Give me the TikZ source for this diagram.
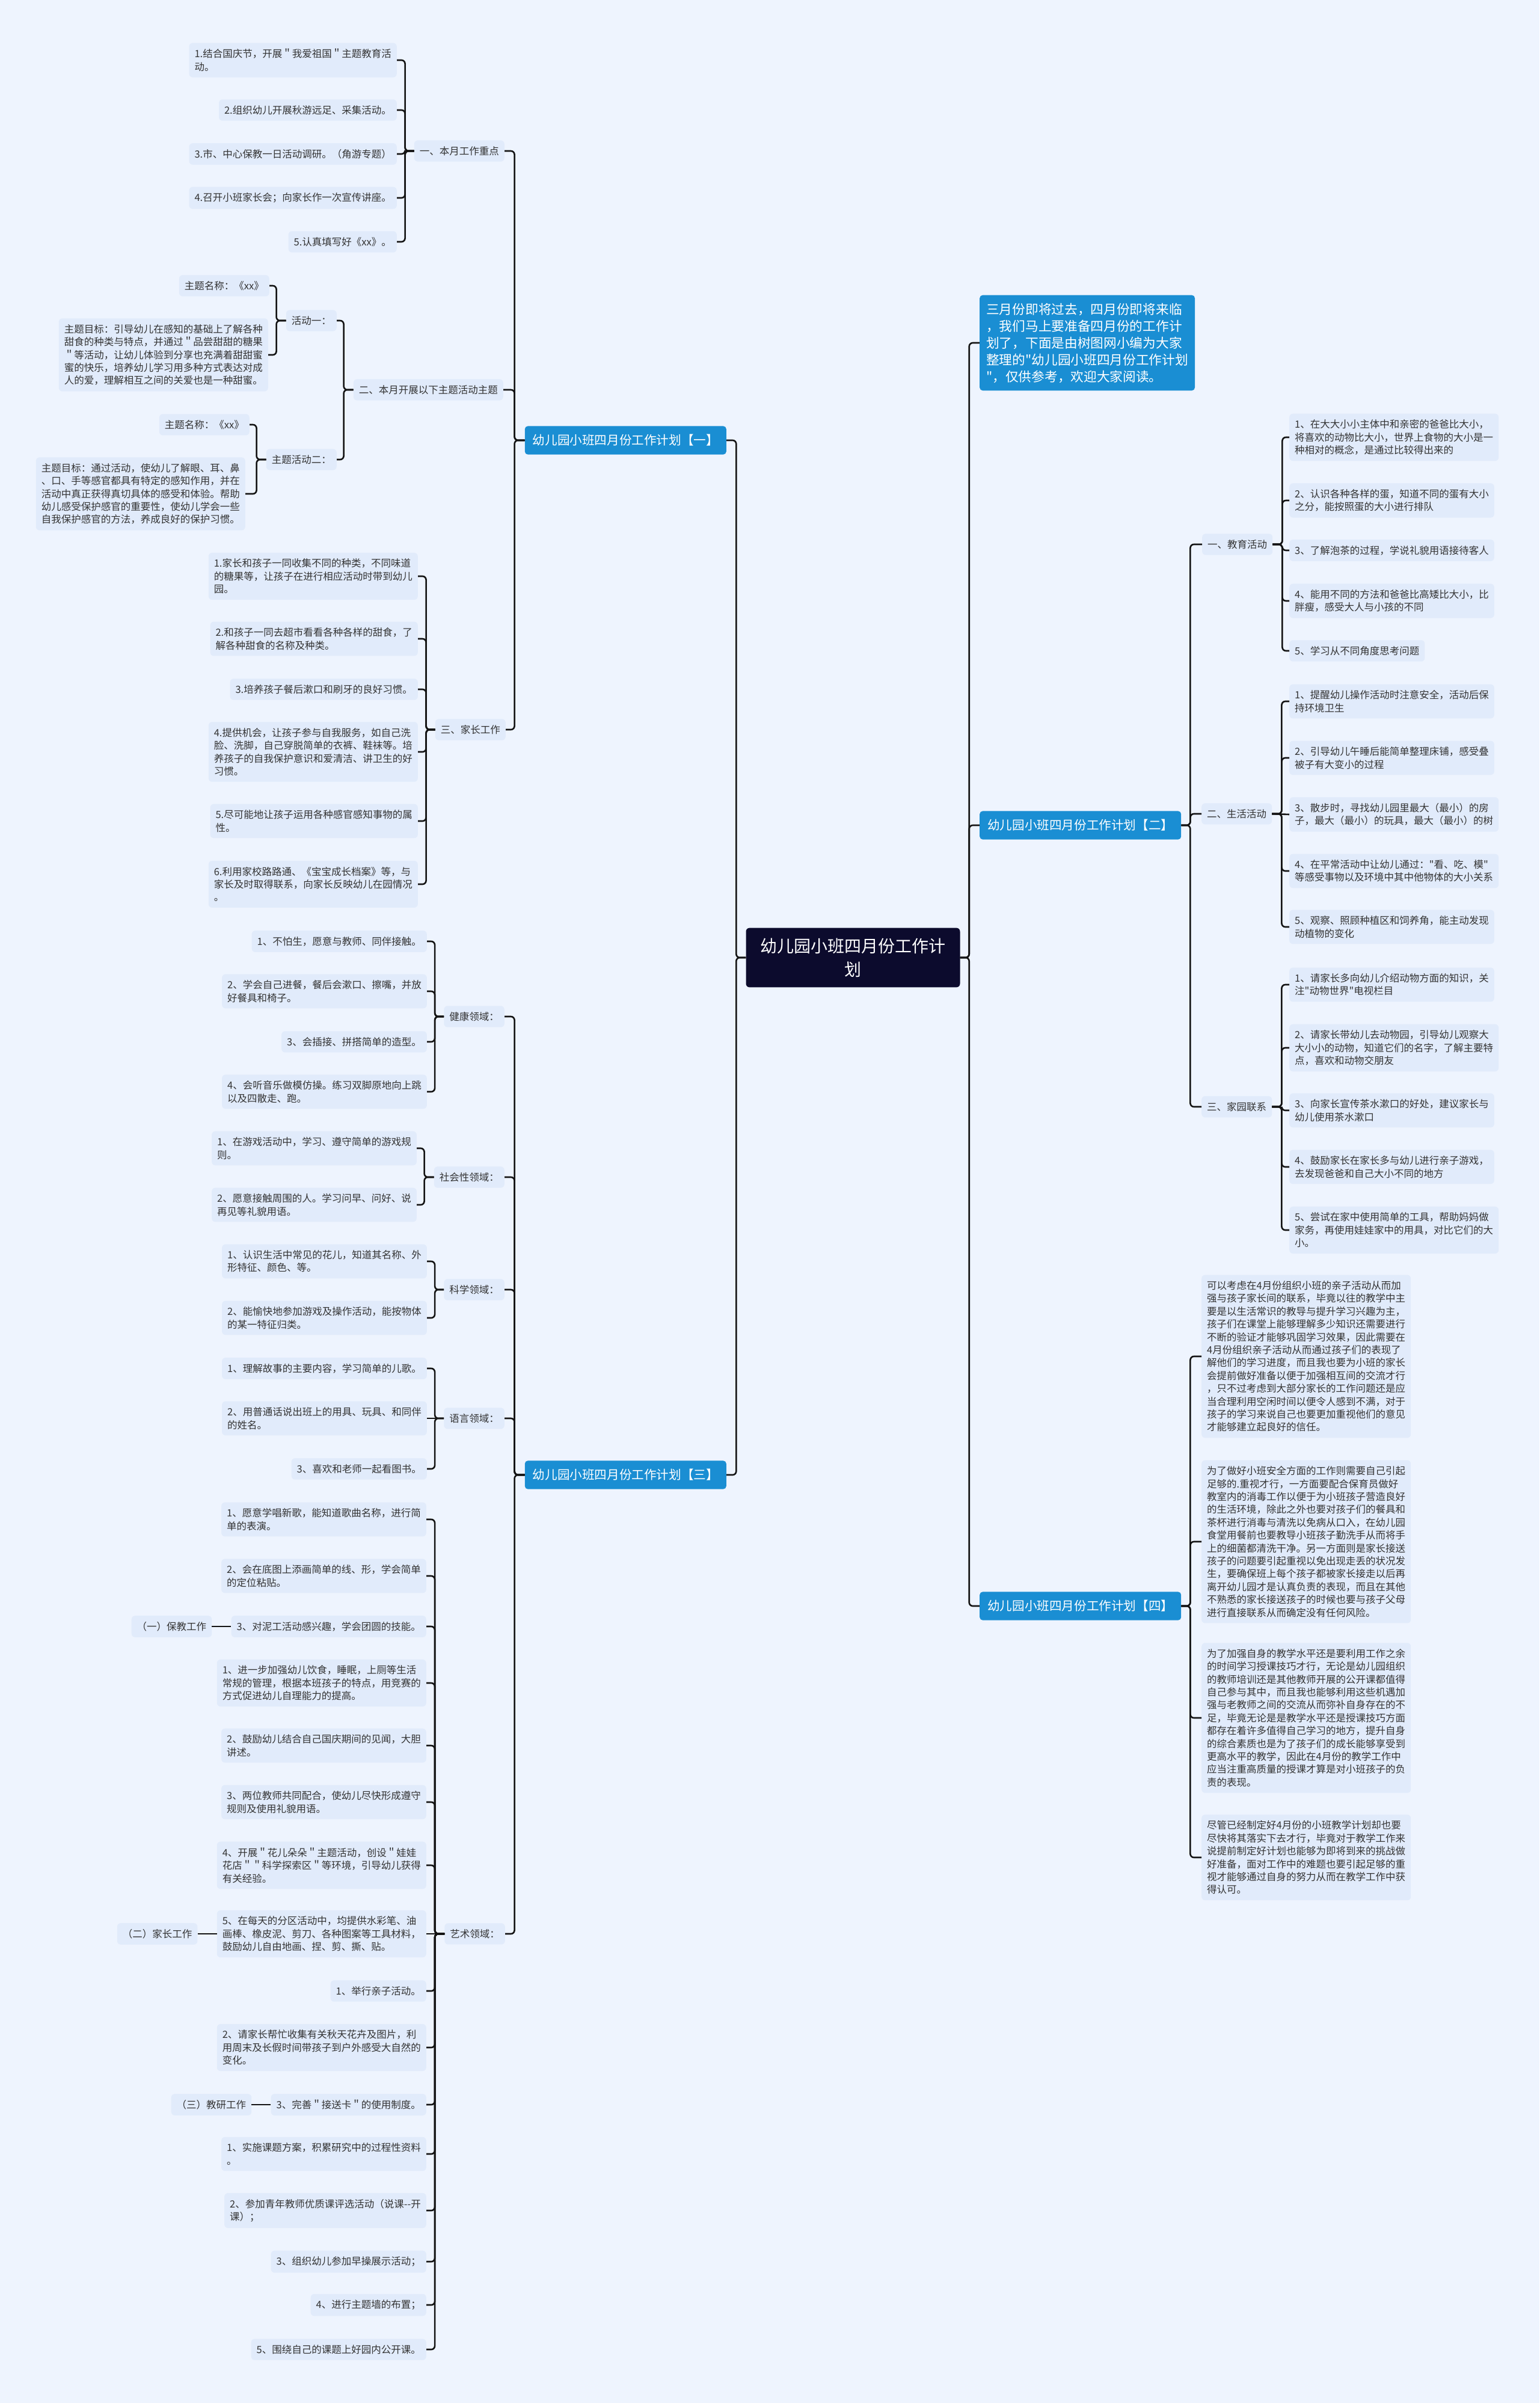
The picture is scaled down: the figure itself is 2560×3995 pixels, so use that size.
\documentclass[tikz,border=0pt]{standalone}
\usepackage{fontspec}
\newfontfamily\zhfont{Noto Sans CJK SC}
\usepackage{tikz}
\usetikzlibrary{positioning}

\definecolor{pagebg}{HTML}{EEF4FE}
\definecolor{leaffill}{HTML}{E1EBFB}
\definecolor{branchblue}{HTML}{1A8ED3}
\definecolor{rootnavy}{HTML}{0C0B2D}
\definecolor{linkdark}{HTML}{141414}
\definecolor{textgray}{HTML}{333333}

\tikzset{
  leaf/.style={fill=leaffill, text=textgray, rounded corners=6pt, align=left,
    inner xsep=9pt, inner ysep=10pt, font=\zhfont\fontsize{16.5}{21.4}\selectfont},
  branch/.style={fill=branchblue, text=white, rounded corners=5pt,
    inner xsep=13pt, inner ysep=14pt, font=\zhfont\fontsize{20.6}{26}\selectfont},
  intro/.style={branch, align=left, inner xsep=11pt, inner ysep=13pt,
    font=\zhfont\fontsize{21.7}{28}\selectfont},
  root/.style={fill=rootnavy, text=white, rounded corners=6pt, align=center,
    inner xsep=24pt, inner ysep=17pt, font=\zhfont\fontsize{28}{39}\selectfont},
  link/.style={draw=linkdark, line width=2.6pt, rounded corners=6pt},
}

\begin{document}
\begin{tikzpicture}[x=1pt, y=-1pt]

		\useasboundingbox (0,0) rectangle (2560,3995);
		\fill[pagebg] (0,0) rectangle (2560,3995);

		% Centre
		\node [root] (plan) at (1418.5,1592) {幼儿园小班四月份工作计\\划};

		% Branches
		\node [branch, anchor=east] (plan1) at (1208,732) {幼儿园小班四月份工作计划【一】};
		\node [branch, anchor=east] (plan3) at (1208,2452) {幼儿园小班四月份工作计划【三】};
		\node [intro, anchor=west] (lead) at (1629,570) {三月份即将过去，四月份即将来临\\，我们马上要准备四月份的工作计\\划了，下面是由树图网小编为大家\\整理的"幼儿园小班四月份工作计划\\"，仅供参考，欢迎大家阅读。};
		\node [branch, anchor=west] (plan2) at (1629,1372) {幼儿园小班四月份工作计划【二】};
		\node [branch, anchor=west] (plan4) at (1629,2670) {幼儿园小班四月份工作计划【四】};

		% Plan one
		\node [leaf, anchor=east] (focus) at (839,251) {一、本月工作重点};
		\node [leaf, anchor=east] (theme) at (837,648) {二、本月开展以下主题活动主题};
		\node [leaf, anchor=east] (parents) at (841,1213) {三、家长工作};

		\node [leaf, anchor=east] (focus1) at (660,100) {1.结合国庆节，开展＂我爱祖国＂主题教育活\\动。};
		\node [leaf, anchor=east] (focus2) at (660,183) {2.组织幼儿开展秋游远足、采集活动。};
		\node [leaf, anchor=east] (focus3) at (660,256) {3.市、中心保教一日活动调研。（角游专题）};
		\node [leaf, anchor=east] (focus4) at (660,329) {4.召开小班家长会；向家长作一次宣传讲座。};
		\node [leaf, anchor=east] (focus5) at (660,402) {5.认真填写好《xx》。};

		\node [leaf, anchor=east] (act1) at (560,533) {活动一：};
		\node [leaf, anchor=east] (act2) at (560,764) {主题活动二：};
		\node [leaf, anchor=east] (name1) at (448,475) {主题名称：《xx》};
		\node [leaf, anchor=east] (goal1) at (446,590) {主题目标：引导幼儿在感知的基础上了解各种\\甜食的种类与特点，并通过＂品尝甜甜的糖果\\＂等活动，让幼儿体验到分享也充满着甜甜蜜\\蜜的快乐，培养幼儿学习用多种方式表达对成\\人的爱，理解相互之间的关爱也是一种甜蜜。};
		\node [leaf, anchor=east] (name2) at (415,706) {主题名称：《xx》};
		\node [leaf, anchor=east] (goal2) at (408,821) {主题目标：通过活动，使幼儿了解眼、耳、鼻\\、口、手等感官都具有特定的感知作用，并在\\活动中真正获得真切具体的感受和体验。帮助\\幼儿感受保护感官的重要性，使幼儿学会一些\\自我保护感官的方法，养成良好的保护习惯。};

		\node [leaf, anchor=east] (home1) at (695,958) {1.家长和孩子一同收集不同的种类，不同味道\\的糖果等，让孩子在进行相应活动时带到幼儿\\园。};
		\node [leaf, anchor=east] (home2) at (695,1062) {2.和孩子一同去超市看看各种各样的甜食，了\\解各种甜食的名称及种类。};
		\node [leaf, anchor=east] (home3) at (695,1146) {3.培养孩子餐后漱口和刷牙的良好习惯。};
		\node [leaf, anchor=east] (home4) at (695,1250) {4.提供机会，让孩子参与自我服务，如自己洗\\脸、洗脚，自己穿脱简单的衣裤、鞋袜等。培\\养孩子的自我保护意识和爱清洁、讲卫生的好\\习惯。};
		\node [leaf, anchor=east] (home5) at (695,1365) {5.尽可能地让孩子运用各种感官感知事物的属\\性。};
		\node [leaf, anchor=east] (home6) at (695,1470) {6.利用家校路路通、《宝宝成长档案》等，与\\家长及时取得联系，向家长反映幼儿在园情况\\。};

		% Plan three
		\node [leaf, anchor=east] (health) at (839,1690) {健康领域：};
		\node [leaf, anchor=east] (social) at (839,1957) {社会性领域：};
		\node [leaf, anchor=east] (science) at (839,2144) {科学领域：};
		\node [leaf, anchor=east] (speech) at (839,2358) {语言领域：};
		\node [leaf, anchor=east] (art) at (840,3215) {艺术领域：};

		\node [leaf, anchor=east] (health1) at (710,1565) {1、不怕生，愿意与教师、同伴接触。};
		\node [leaf, anchor=east] (health2) at (710,1648) {2、学会自己进餐，餐后会漱口、擦嘴，并放\\好餐具和椅子。};
		\node [leaf, anchor=east] (health3) at (710,1732) {3、会插接、拼搭简单的造型。};
		\node [leaf, anchor=east] (health4) at (710,1815) {4、会听音乐做模仿操。练习双脚原地向上跳\\以及四散走、跑。};

		\node [leaf, anchor=east] (social1) at (693,1909) {1、在游戏活动中，学习、遵守简单的游戏规\\则。};
		\node [leaf, anchor=east] (social2) at (693,2003) {2、愿意接触周围的人。学习问早、问好、说\\再见等礼貌用语。};

		\node [leaf, anchor=east] (science1) at (710,2097) {1、认识生活中常见的花儿，知道其名称、外\\形特征、颜色、等。};
		\node [leaf, anchor=east] (science2) at (710,2191) {2、能愉快地参加游戏及操作活动，能按物体\\的某一特征归类。};

		\node [leaf, anchor=east] (speech1) at (710,2275) {1、理解故事的主要内容，学习简单的儿歌。};
		\node [leaf, anchor=east] (speech2) at (710,2358) {2、用普通话说出班上的用具、玩具、和同伴\\的姓名。};
		\node [leaf, anchor=east] (speech3) at (710,2442) {3、喜欢和老师一起看图书。};

		\node [leaf, anchor=east] (art1) at (709,2526) {1、愿意学唱新歌，能知道歌曲名称，进行简\\单的表演。};
		\node [leaf, anchor=east] (art2) at (709,2620) {2、会在底图上添画简单的线、形，学会简单\\的定位粘贴。};
		\node [leaf, anchor=east] (art3) at (709,2704) {3、对泥工活动感兴趣，学会团圆的技能。};
		\node [leaf, anchor=east] (art4) at (709,2798) {1、进一步加强幼儿饮食，睡眠，上厕等生活\\常规的管理，根据本班孩子的特点，用竞赛的\\方式促进幼儿自理能力的提高。};
		\node [leaf, anchor=east] (art5) at (709,2902) {2、鼓励幼儿结合自己国庆期间的见闻，大胆\\讲述。};
		\node [leaf, anchor=east] (art6) at (709,2996) {3、两位教师共同配合，使幼儿尽快形成遵守\\规则及使用礼貌用语。};
		\node [leaf, anchor=east] (art7) at (709,3101) {4、开展＂花儿朵朵＂主题活动，创设＂娃娃\\花店＂＂科学探索区＂等环境，引导幼儿获得\\有关经验。};
		\node [leaf, anchor=east] (art8) at (709,3215) {5、在每天的分区活动中，均提供水彩笔、油\\画棒、橡皮泥、剪刀、各种图案等工具材料，\\鼓励幼儿自由地画、捏、剪、撕、贴。};
		\node [leaf, anchor=east] (art9) at (709,3310) {1、举行亲子活动。};
		\node [leaf, anchor=east] (art10) at (709,3404) {2、请家长帮忙收集有关秋天花卉及图片，利\\用周末及长假时间带孩子到户外感受大自然的\\变化。};
		\node [leaf, anchor=east] (art11) at (709,3499) {3、完善＂接送卡＂的使用制度。};
		\node [leaf, anchor=east] (art12) at (709,3581) {1、实施课题方案，积累研究中的过程性资料\\。};
		\node [leaf, anchor=east] (art13) at (709,3675) {2、参加青年教师优质课评选活动（说课--开\\课）；};
		\node [leaf, anchor=east] (art14) at (709,3760) {3、组织幼儿参加早操展示活动；};
		\node [leaf, anchor=east] (art15) at (709,3832) {4、进行主题墙的布置；};
		\node [leaf, anchor=east] (art16) at (709,3906) {5、围绕自己的课题上好园内公开课。};

		\node [leaf, left=32pt of art3] (care) {（一）保教工作};
		\node [leaf, left=32pt of art8] (family) {（二）家长工作};
		\node [leaf, left=32pt of art11] (research) {（三）教研工作};

		% Plan two
		\node [leaf, anchor=west] (teach) at (1999,905) {一、教育活动};
		\node [leaf, anchor=west] (daily) at (1998,1353) {二、生活活动};
		\node [leaf, anchor=west] (contact) at (1998,1840) {三、家园联系};

		\node [leaf, anchor=west] (teach1) at (2144,727) {1、在大大小小主体中和亲密的爸爸比大小，\\将喜欢的动物比大小，世界上食物的大小是一\\种相对的概念，是通过比较得出来的};
		\node [leaf, anchor=west] (teach2) at (2144,832) {2、认识各种各样的蛋，知道不同的蛋有大小\\之分，能按照蛋的大小进行排队};
		\node [leaf, anchor=west] (teach3) at (2144,915) {3、了解泡茶的过程，学说礼貌用语接待客人};
		\node [leaf, anchor=west] (teach4) at (2144,999) {4、能用不同的方法和爸爸比高矮比大小，比\\胖瘦，感受大人与小孩的不同};
		\node [leaf, anchor=west] (teach5) at (2144,1082) {5、学习从不同角度思考问题};

		\node [leaf, anchor=west] (daily1) at (2144,1166) {1、提醒幼儿操作活动时注意安全，活动后保\\持环境卫生};
		\node [leaf, anchor=west] (daily2) at (2144,1260) {2、引导幼儿午睡后能简单整理床铺，感受叠\\被子有大变小的过程};
		\node [leaf, anchor=west] (daily3) at (2144,1354) {3、散步时，寻找幼儿园里最大（最小）的房\\子，最大（最小）的玩具，最大（最小）的树};
		\node [leaf, anchor=west] (daily4) at (2144,1448) {4、在平常活动中让幼儿通过："看、吃、模"\\等感受事物以及环境中其中他物体的大小关系};
		\node [leaf, anchor=west] (daily5) at (2144,1541) {5、观察、照顾种植区和饲养角，能主动发现\\动植物的变化};

		\node [leaf, anchor=west] (contact1) at (2144,1637) {1、请家长多向幼儿介绍动物方面的知识，关\\注"动物世界"电视栏目};
		\node [leaf, anchor=west] (contact2) at (2144,1742) {2、请家长带幼儿去动物园，引导幼儿观察大\\大小小的动物，知道它们的名字，了解主要特\\点，喜欢和动物交朋友};
		\node [leaf, anchor=west] (contact3) at (2144,1846) {3、向家长宣传茶水漱口的好处，建议家长与\\幼儿使用茶水漱口};
		\node [leaf, anchor=west] (contact4) at (2144,1940) {4、鼓励家长在家长多与幼儿进行亲子游戏，\\去发现爸爸和自己大小不同的地方};
		\node [leaf, anchor=west] (contact5) at (2144,2045) {5、尝试在家中使用简单的工具，帮助妈妈做\\家务，再使用娃娃家中的用具，对比它们的大\\小。};

		% Plan four
		\node [leaf, anchor=west] (note1) at (1998,2255) {可以考虑在4月份组织小班的亲子活动从而加\\强与孩子家长间的联系，毕竟以往的教学中主\\要是以生活常识的教导与提升学习兴趣为主，\\孩子们在课堂上能够理解多少知识还需要进行\\不断的验证才能够巩固学习效果，因此需要在\\4月份组织亲子活动从而通过孩子们的表现了\\解他们的学习进度，而且我也要为小班的家长\\会提前做好准备以便于加强相互间的交流才行\\，只不过考虑到大部分家长的工作问题还是应\\当合理利用空闲时间以便令人感到不满，对于\\孩子的学习来说自己也要更加重视他们的意见\\才能够建立起良好的信任。};
		\node [leaf, anchor=west] (note2) at (1998,2563) {为了做好小班安全方面的工作则需要自己引起\\足够的.重视才行，一方面要配合保育员做好\\教室内的消毒工作以便于为小班孩子营造良好\\的生活环境，除此之外也要对孩子们的餐具和\\茶杯进行消毒与清洗以免病从口入，在幼儿园\\食堂用餐前也要教导小班孩子勤洗手从而将手\\上的细菌都清洗干净。另一方面则是家长接送\\孩子的问题要引起重视以免出现走丢的状况发\\生，要确保班上每个孩子都被家长接走以后再\\离开幼儿园才是认真负责的表现，而且在其他\\不熟悉的家长接送孩子的时候也要与孩子父母\\进行直接联系从而确定没有任何风险。};
		\node [leaf, anchor=west] (note3) at (1998,2856) {为了加强自身的教学水平还是要利用工作之余\\的时间学习授课技巧才行，无论是幼儿园组织\\的教师培训还是其他教师开展的公开课都值得\\自己参与其中，而且我也能够利用这些机遇加\\强与老教师之间的交流从而弥补自身存在的不\\足，毕竟无论是是教学水平还是授课技巧方面\\都存在着许多值得自己学习的地方，提升自身\\的综合素质也是为了孩子们的成长能够享受到\\更高水平的教学，因此在4月份的教学工作中\\应当注重高质量的授课才算是对小班孩子的负\\责的表现。};
		\node [leaf, anchor=west] (note4) at (1998,3088) {尽管已经制定好4月份的小班教学计划却也要\\尽快将其落实下去才行，毕竟对于教学工作来\\说提前制定好计划也能够为即将到来的挑战做\\好准备，面对工作中的难题也要引起足够的重\\视才能够通过自身的努力从而在教学工作中获\\得认可。};

		% Connectors
		\draw[link] (plan.west) -- ++(-16,0) |- (plan1.east);
		\draw[link] (plan.west) -- ++(-16,0) |- (plan3.east);
		\draw[link] (plan.east) -- ++(15,0) |- (lead.west);
		\draw[link] (plan.east) -- ++(15,0) |- (plan2.west);
		\draw[link] (plan.east) -- ++(15,0) |- (plan4.west);

		\draw[link] (plan1.west) -- ++(-17,0) |- (focus.east);
		\draw[link] (plan1.west) -- ++(-17,0) |- (theme.east);
		\draw[link] (plan1.west) -- ++(-17,0) |- (parents.east);

		\draw[link] (focus.west) -- ++(-15,0) |- (focus1.east);
		\draw[link] (focus.west) -- ++(-15,0) |- (focus2.east);
		\draw[link] (focus.west) -- ++(-15,0) |- (focus3.east);
		\draw[link] (focus.west) -- ++(-15,0) |- (focus4.east);
		\draw[link] (focus.west) -- ++(-15,0) |- (focus5.east);

		\draw[link] (theme.west) -- ++(-16,0) |- (act1.east);
		\draw[link] (theme.west) -- ++(-16,0) |- (act2.east);
		\draw[link] (act1.west) -- ++(-16,0) |- (name1.east);
		\draw[link] (act1.west) -- ++(-16,0) |- (goal1.east);
		\draw[link] (act2.west) -- ++(-16,0) |- (name2.east);
		\draw[link] (act2.west) -- ++(-16,0) |- (goal2.east);

		\draw[link] (parents.west) -- ++(-15,0) |- (home1.east);
		\draw[link] (parents.west) -- ++(-15,0) |- (home2.east);
		\draw[link] (parents.west) -- ++(-15,0) |- (home3.east);
		\draw[link] (parents.west) -- ++(-15,0) |- (home4.east);
		\draw[link] (parents.west) -- ++(-15,0) |- (home5.east);
		\draw[link] (parents.west) -- ++(-15,0) |- (home6.east);

		\draw[link] (plan3.west) -- ++(-17,0) |- (health.east);
		\draw[link] (plan3.west) -- ++(-17,0) |- (social.east);
		\draw[link] (plan3.west) -- ++(-17,0) |- (science.east);
		\draw[link] (plan3.west) -- ++(-17,0) |- (speech.east);
		\draw[link] (plan3.west) -- ++(-17,0) |- (art.east);

		\draw[link] (health.west) -- ++(-15,0) |- (health1.east);
		\draw[link] (health.west) -- ++(-15,0) |- (health2.east);
		\draw[link] (health.west) -- ++(-15,0) |- (health3.east);
		\draw[link] (health.west) -- ++(-15,0) |- (health4.east);
		\draw[link] (social.west) -- ++(-16,0) |- (social1.east);
		\draw[link] (social.west) -- ++(-16,0) |- (social2.east);
		\draw[link] (science.west) -- ++(-15,0) |- (science1.east);
		\draw[link] (science.west) -- ++(-15,0) |- (science2.east);
		\draw[link] (speech.west) -- ++(-15,0) |- (speech1.east);
		\draw[link] (speech.west) -- (speech2.east);
		\draw[link] (speech.west) -- ++(-15,0) |- (speech3.east);

		\draw[link] (art.west) -- ++(-16,0) |- (art1.east);
		\draw[link] (art.west) -- ++(-16,0) |- (art2.east);
		\draw[link] (art.west) -- ++(-16,0) |- (art3.east);
		\draw[link] (art.west) -- ++(-16,0) |- (art4.east);
		\draw[link] (art.west) -- ++(-16,0) |- (art5.east);
		\draw[link] (art.west) -- ++(-16,0) |- (art6.east);
		\draw[link] (art.west) -- ++(-16,0) |- (art7.east);
		\draw[link] (art.west) -- (art8.east);
		\draw[link] (art.west) -- ++(-16,0) |- (art9.east);
		\draw[link] (art.west) -- ++(-16,0) |- (art10.east);
		\draw[link] (art.west) -- ++(-16,0) |- (art11.east);
		\draw[link] (art.west) -- ++(-16,0) |- (art12.east);
		\draw[link] (art.west) -- ++(-16,0) |- (art13.east);
		\draw[link] (art.west) -- ++(-16,0) |- (art14.east);
		\draw[link] (art.west) -- ++(-16,0) |- (art15.east);
		\draw[link] (art.west) -- ++(-16,0) |- (art16.east);

		\draw[link] (care) -- (art3);
		\draw[link] (family) -- (art8);
		\draw[link] (research) -- (art11);

		\draw[link] (plan2.east) -- ++(15,0) |- (teach.west);
		\draw[link] (plan2.east) -- ++(15,0) |- (daily.west);
		\draw[link] (plan2.east) -- ++(15,0) |- (contact.west);

		\draw[link] (teach.east) -- ++(16,0) |- (teach1.west);
		\draw[link] (teach.east) -- ++(16,0) |- (teach2.west);
		\draw[link] (teach.east) -- ++(16,0) |- (teach3.west);
		\draw[link] (teach.east) -- ++(16,0) |- (teach4.west);
		\draw[link] (teach.east) -- ++(16,0) |- (teach5.west);

		\draw[link] (daily.east) -- ++(16,0) |- (daily1.west);
		\draw[link] (daily.east) -- ++(16,0) |- (daily2.west);
		\draw[link] (daily.east) -- (daily3.west);
		\draw[link] (daily.east) -- ++(16,0) |- (daily4.west);
		\draw[link] (daily.east) -- ++(16,0) |- (daily5.west);

		\draw[link] (contact.east) -- ++(16,0) |- (contact1.west);
		\draw[link] (contact.east) -- ++(16,0) |- (contact2.west);
		\draw[link] (contact.east) -- ++(16,0) |- (contact3.west);
		\draw[link] (contact.east) -- ++(16,0) |- (contact4.west);
		\draw[link] (contact.east) -- ++(16,0) |- (contact5.west);

		\draw[link] (plan4.east) -- ++(15,0) |- (note1.west);
		\draw[link] (plan4.east) -- ++(15,0) |- (note2.west);
		\draw[link] (plan4.east) -- ++(15,0) |- (note3.west);
		\draw[link] (plan4.east) -- ++(15,0) |- (note4.west);

\end{tikzpicture}
\end{document}
